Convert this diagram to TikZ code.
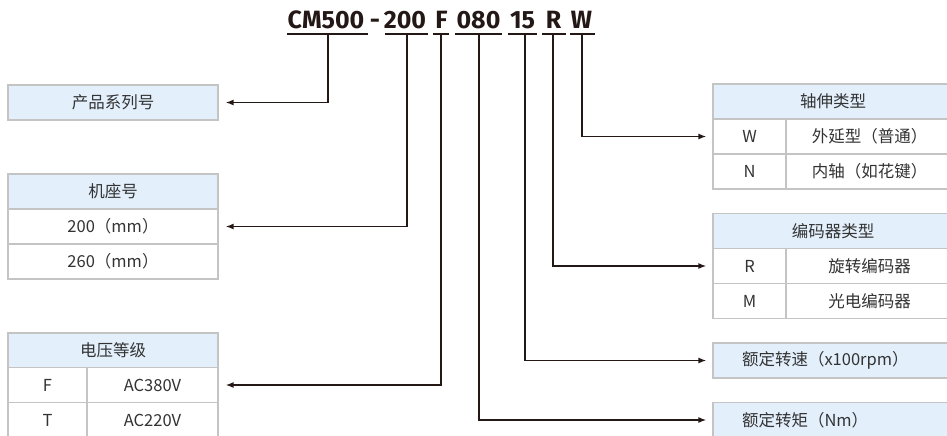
\documentclass[tikz,border=0pt]{standalone}
\usepackage{fontspec}
\setmainfont{Noto Sans CJK SC}
\newfontfamily\titlefont{Fira Sans}
\usetikzlibrary{arrows.meta}
\definecolor{bordergray}{HTML}{C4C4C4}
\definecolor{hdrblue}{HTML}{E3F0FC}
\definecolor{txt}{HTML}{333333}
\definecolor{ink}{HTML}{231815}
\tikzset{
  cellbase/.style={draw=bordergray, line width=1.3pt, inner sep=0pt, minimum height=35pt, text=txt, font=\fontsize{16.5}{19}\selectfont},
  hdr/.style={cellbase, fill=hdrblue, minimum width=210pt},
  hdrR/.style={cellbase, fill=hdrblue, minimum width=240pt},
  wcell/.style={cellbase, fill=white, minimum width=210pt},
  lcol/.style={cellbase, fill=white, minimum width=79pt},
  rcol/.style={cellbase, fill=white, minimum width=131pt},
  klcol/.style={cellbase, fill=white, minimum width=73pt},
  krcol/.style={cellbase, fill=white, minimum width=167pt},
  leftbox/.style={cellbase, fill=hdrblue, text width=182pt, inner xsep=29pt, align=left},
  tok/.style={font=\titlefont\bfseries\fontsize{25}{28}\selectfont, text=ink, inner sep=0pt, anchor=base},
  uline/.style={draw=ink, line width=2pt},
  conn/.style={draw=ink, line width=1.4pt, -{Latex[length=8pt,width=6pt]}},
}
\begin{document}
\begin{tikzpicture}[x=1pt,y=-1pt]
\useasboundingbox (0,0) rectangle (947,436);
\clip (0,0) rectangle (947,436);
% title tokens
\node[tok] (tA) at (326,28.5) {CM500};
\node[tok] (tD) at (375,28.5) {-};
\node[tok] (tB) at (405,28.5) {200};
\node[tok] (tC) at (441.5,28.5) {F};
\node[tok] (tE) at (478.5,28.5) {080};
\node[tok] (tF) at (522.5,28.5) {15};
\node[tok] (tG) at (553.5,28.5) {R};
\node[tok] (tH) at (581.5,28.5) {W};
% underlines
\draw[uline] (287,34) -- (368,34);
\draw[uline] (385,34) -- (428,34);
\draw[uline] (433,34) -- (449,34);
\draw[uline] (455,34) -- (502,34);
\draw[uline] (508,34) -- (537,34);
\draw[uline] (542,34) -- (566,34);
\draw[uline] (570,34) -- (595,34);
\coordinate (k1) at (328,33);
\coordinate (k2) at (407,33);
\coordinate (k3) at (441,33);
\coordinate (k4) at (479,33);
\coordinate (k5) at (525,33);
\coordinate (k6) at (553,33);
\coordinate (k7) at (582,33);
% left side
\node[hdr] (prod) at (113,102.5) {产品系列号};
\node[hdr] (jzh) at (113,191.5) {机座号};
\node[wcell] (jz1) at (113,226.5) {200（mm）};
\node[wcell] (jz2) at (113,261.5) {260（mm）};
\node[hdr] (dyh) at (113,350.5) {电压等级};
\node[lcol] (dy1a) at (47.5,385) {F};
\node[rcol] (dy1b) at (152.5,385) {AC380V};
\node[lcol] (dy2a) at (47.5,420) {T};
\node[rcol] (dy2b) at (152.5,420) {AC220V};
% right side
\node[hdrR] (zsh) at (833,101.5) {轴伸类型};
\node[klcol] (zs1a) at (749.5,136.5) {W};
\node[krcol] (zs1b) at (869.5,136.5) {外延型（普通）};
\node[klcol] (zs2a) at (749.5,171.5) {N};
\node[krcol] (zs2b) at (869.5,171.5) {内轴（如花键）};
\node[hdrR] (bmh) at (833,231) {编码器类型};
\node[klcol] (bm1a) at (749.5,266) {R};
\node[krcol] (bm1b) at (869.5,266) {旋转编码器};
\node[klcol] (bm2a) at (749.5,301) {M};
\node[krcol] (bm2b) at (869.5,301) {光电编码器};
\node[leftbox] (spd) at (833,360.5) {额定转速（x100rpm）};
\node[leftbox] (trq) at (833,420) {额定转矩（Nm）};
% connectors
\draw[conn] (k1) |- ([xshift=7pt]prod.east);
\draw[conn] (k2) |- ([xshift=7pt]jz1.east);
\draw[conn] (k3) |- ([xshift=7pt]dy1b.east);
\draw[conn] (k4) |- ([xshift=-6pt]trq.west);
\draw[conn] (k5) |- ([xshift=-6pt]spd.west);
\draw[conn] (k6) |- ([xshift=-6pt]bm1a.west);
\draw[conn] (k7) |- ([xshift=-6pt]zs1a.west);
\end{tikzpicture}
\end{document}
